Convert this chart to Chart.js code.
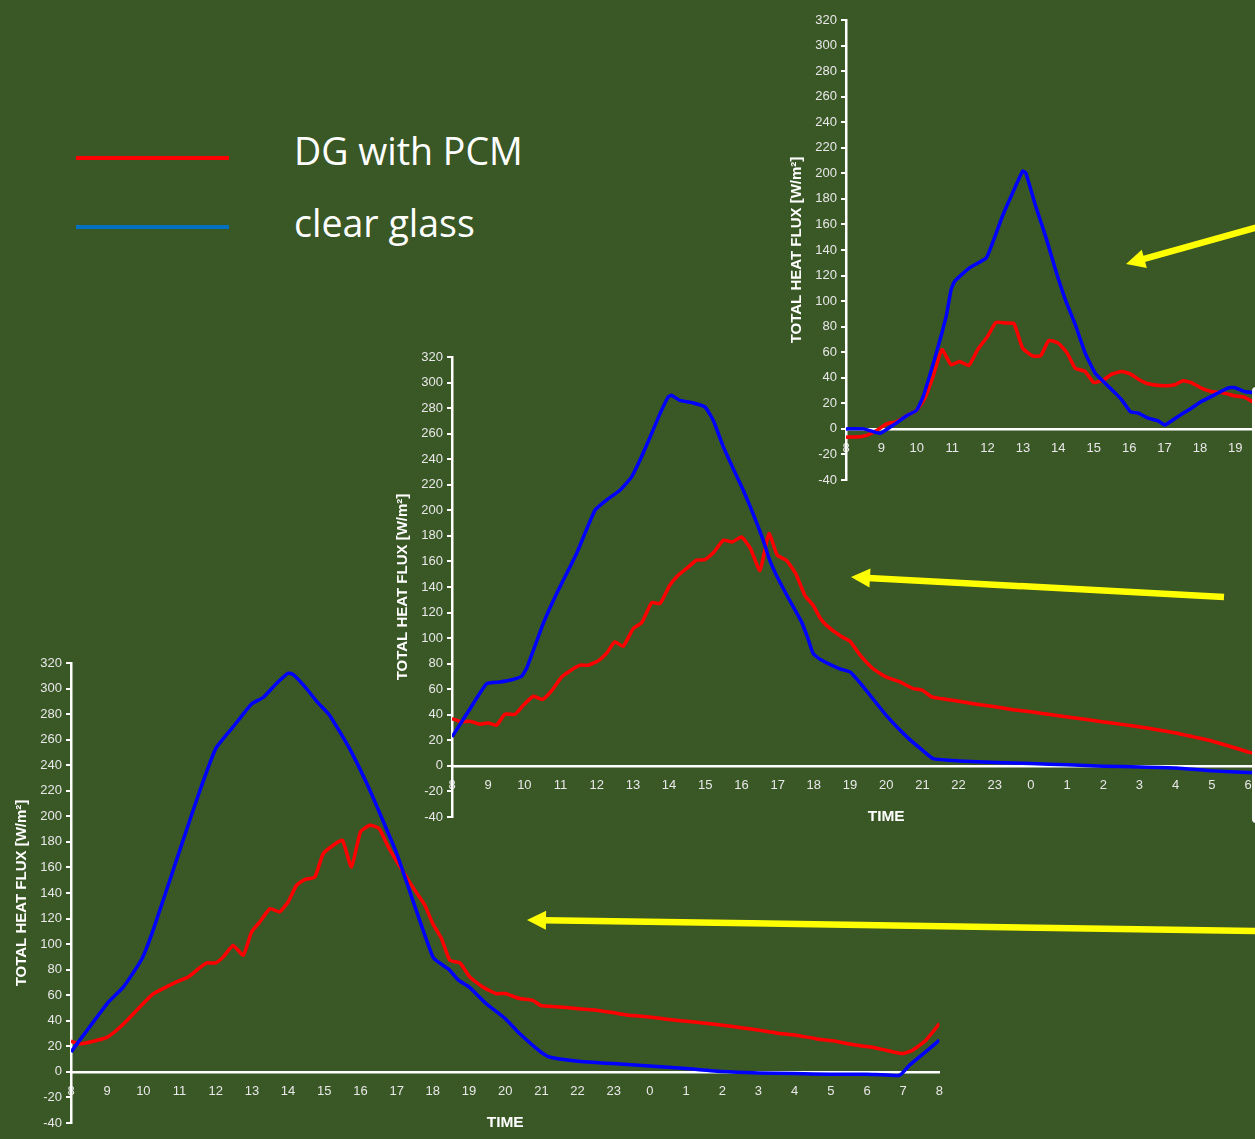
<!DOCTYPE html>
<html>
<head>
<meta charset="utf-8">
<script src="https://cdn.jsdelivr.net/npm/chart.js@4.4.1/dist/chart.umd.min.js"></script>
<style>
  html, body { margin: 0; padding: 0; width: 1255px; height: 1139px; overflow: hidden; background: #3a5726; }
  .plot { position: absolute; }
  .key-line { position: absolute; height: 4px; }
  .key-text { position: absolute; font-family: "Open Sans", sans-serif; font-size: 37.5px; line-height: 1; color: #ffffff; white-space: nowrap; }
  #edge { position: absolute; left: 1252px; top: 387px; width: 12px; height: 436px; background: #ffffff; border-radius: 4px; }
  #arrows { position: absolute; left: 0; top: 0; }
</style>
</head>
<body>

<div class="key-line" style="left:76px; top:156px; width:153px; background:#ff0000;"></div>
<div class="key-line" style="left:76px; top:225px; width:153px; background:#0070c0;"></div>
<div class="key-text" style="left:294px; top:132px;">DG with PCM</div>
<div class="key-text" style="left:294px; top:204px;">clear glass</div>

<canvas id="dayC" class="plot" width="936" height="489" style="left:775px; top:8px;"></canvas>
<canvas id="dayB" class="plot" width="955" height="489" style="left:381px; top:345px;"></canvas>
<canvas id="dayA" class="plot" width="955" height="489" style="left:0px; top:651px;"></canvas>

<div id="edge"></div>
<svg id="arrows" width="1255" height="1139"></svg>

<script>
// Hours elapsed since 08:00; tick labels show the clock hour.
// Day A (lower left panel)
const dayAClearHours = [0, 1, 1.45, 1.95, 2.27, 3, 3.56, 4, 4.48, 4.99, 5.31, 5.68, 6.0, 6.14, 6.51, 6.79, 7.15, 7.7, 8.17, 8.54, 9.0, 9.45, 9.73, 10.0, 10.1, 10.45, 10.7, 11.0, 11.47, 12.0, 12.4, 12.98, 13.22, 13.96, 14.97, 15.99, 17.0, 18.0, 19.0, 20.0, 21.0, 22.0, 22.9, 23.17, 23.45, 24];
const dayAClearFlux  = [15.6, 53.5, 66.5, 88, 111, 173, 220, 253, 270, 288, 293, 304, 312, 311, 300, 290, 279, 253, 226, 202, 171, 134, 111, 90, 87, 80, 72, 66.5, 53.5, 41.7, 30, 15.6, 11.7, 8.6, 6.5, 4.7, 2.6, 0.3, -0.8, -1.3, -1.8, -1.8, -2.6, 5.2, 11.7, 24.8];
const dayAPcmHours = [0, 0.25, 0.62, 0.99, 1.26, 1.54, 1.91, 2.27, 2.64, 2.92, 3.24, 3.47, 3.75, 4.0, 4.21, 4.48, 4.76, 4.99, 5.22, 5.5, 5.76, 6.0, 6.23, 6.46, 6.74, 6.97, 7.25, 7.5, 7.75, 8.0, 8.26, 8.52, 8.77, 9.04, 9.27, 9.5, 9.78, 10.0, 10.24, 10.47, 10.75, 11.02, 11.38, 11.75, 12.0, 12.4, 12.76, 12.98, 13.41, 13.96, 14.51, 14.97, 15.43, 15.99, 16.54, 17.0, 17.46, 18.01, 18.57, 19.03, 19.49, 20.04, 20.59, 21.05, 21.6, 22.06, 22.52, 22.99, 23.26, 23.63, 24.0];
const dayAPcmFlux  = [24, 22, 24, 27, 32.6, 40, 51, 61, 66.5, 70.4, 74.3, 79.5, 85.3, 85.3, 90, 99, 91.3, 109.5, 117.4, 127.8, 125.2, 133, 146, 150.5, 152.6, 170.8, 177.4, 181.3, 160.4, 187.8, 193, 190.4, 176, 163, 152.6, 142.2, 130.4, 116, 104.3, 87.4, 85.3, 74.3, 66.5, 61.3, 61.3, 57.4, 56, 52, 51, 49.6, 48.3, 46.4, 44.3, 43, 41, 39.6, 38.3, 36.5, 34.4, 32.6, 30.5, 28.7, 26, 24.3, 21.4, 19.6, 17, 14.3, 17, 24.8, 37.8];

// Day B (middle panel)
const dayBClearHours = [0, 0.59, 0.96, 1.33, 1.6, 1.92, 2.06, 2.25, 2.52, 2.89, 3.44, 3.95, 4.27, 4.64, 4.96, 5.19, 5.47, 5.75, 5.98, 6.07, 6.3, 6.67, 6.99, 7.22, 7.5, 7.77, 8.05, 8.32, 8.6, 8.78, 9.01, 9.33, 9.66, 9.84, 9.98, 10.17, 10.72, 11.0, 11.37, 12.0, 12.57, 13.0, 13.3, 14.0, 15.01, 16.0, 17.01, 18.01, 19.02, 20.01, 21.02, 22.01, 22.4];
const dayBClearFlux  = [22.7, 48.8, 64.4, 65.7, 67, 70, 76.2, 90.5, 111.4, 134.8, 166, 200, 208, 215.7, 226, 239, 257, 275.7, 289, 290, 286, 284, 281, 270.5, 249.6, 232.7, 215.7, 197.4, 176.6, 161, 146.6, 129.6, 112.7, 99.6, 88, 83.5, 76, 73.5, 61.8, 39.6, 22.7, 12.3, 5.7, 3.9, 2.6, 1.8, 0.8, -0.3, -0.8, -1.6, -3.9, -5.2, -5.5];
const dayBPcmHours = [0, 0.27, 0.5, 0.77, 1.0, 1.23, 1.46, 1.74, 1.97, 2.25, 2.5, 2.75, 3.03, 3.26, 3.54, 3.77, 4.04, 4.27, 4.5, 4.73, 5.01, 5.24, 5.52, 5.75, 6.02, 6.25, 6.48, 6.76, 6.99, 7.22, 7.5, 7.75, 8.0, 8.25, 8.51, 8.76, 8.99, 9.24, 9.5, 9.75, 9.98, 10.17, 10.35, 10.72, 11.0, 11.28, 11.63, 12.0, 12.38, 12.75, 13.0, 13.26, 13.67, 14.0, 14.5, 15.01, 15.51, 16.0, 16.53, 17.01, 17.54, 18.01, 18.56, 19.02, 19.57, 20.01, 20.49, 21.02, 21.51, 22.01, 22.4];
const dayBPcmFlux  = [37, 34.4, 35, 32.6, 33.6, 31.8, 40.4, 40.4, 47.5, 54.5, 52, 58.7, 69.6, 74.3, 78.8, 78.8, 82.2, 88, 97, 93.6, 107.5, 112, 127.8, 127, 141.4, 149.2, 154.4, 161, 161.4, 166.7, 176.6, 175.3, 179.2, 170, 153, 181.8, 164.8, 161, 150.5, 133.5, 125.7, 116, 110, 102, 97.5, 86.6, 76.2, 69.6, 65.7, 60.5, 59.2, 54, 52, 50.6, 48.3, 46.2, 44, 42.3, 40.2, 38.3, 36.3, 34.4, 32.3, 30.5, 27.9, 25.8, 22.7, 19.3, 15.2, 10.8, 9];

// Day C (upper right panel)
const dayCClearHours = [0, 0.5, 0.96, 1.34, 1.76, 1.99, 2.18, 2.55, 2.83, 2.97, 3.07, 3.49, 3.96, 4.14, 4.42, 4.75, 4.99, 5.08, 5.36, 5.64, 5.92, 6.2, 6.48, 6.76, 7.04, 7.32, 7.61, 7.79, 8.03, 8.26, 8.54, 8.82, 9.01, 9.38, 9.76, 10.04, 10.41, 10.79, 10.97, 11.25, 11.49, 11.7];
const dayCClearFlux  = [0, 0, -3.4, 3.1, 11, 14.4, 25.3, 59.3, 88, 109, 115.5, 126, 133.7, 145.5, 166.4, 187.3, 201.7, 200.4, 174.2, 150.7, 124.6, 101, 81.5, 59.3, 43.6, 35.8, 28, 22.7, 13.6, 12.3, 8.4, 6.3, 3.1, 9.7, 16.2, 21.4, 26.6, 31.9, 32.4, 29.3, 28.5, 28];
const dayCPcmHours = [0, 0.45, 0.73, 0.96, 1.15, 1.43, 1.76, 1.99, 2.23, 2.46, 2.71, 2.97, 3.21, 3.47, 3.72, 4.0, 4.24, 4.52, 4.75, 4.99, 5.27, 5.5, 5.73, 6.0, 6.25, 6.48, 6.76, 7.0, 7.28, 7.51, 7.79, 8.03, 8.26, 8.54, 9.01, 9.29, 9.52, 9.76, 10.04, 10.32, 10.69, 10.97, 11.25, 11.49, 11.7];
const dayCPcmFlux  = [-6.5, -6, -3.4, 0.5, 3.9, 5.7, 11, 14.4, 24, 41, 62, 50.2, 52.8, 49.6, 62, 72.4, 83.3, 82.8, 82.3, 63.2, 57.2, 57.2, 69.2, 67.1, 59.3, 47.5, 44.9, 36.3, 38.4, 42.8, 44.9, 43.1, 38.9, 35.3, 33.7, 34.5, 37.6, 36.3, 31.9, 29.3, 28, 25.9, 24.8, 21.4, 20];

const seriesNames = ['clear glass', 'DG with PCM'];
const seriesColors = ['#0000ff', '#ff0000'];
const yTitle = 'TOTAL HEAT FLUX [W/m²]';
const xTitle = 'TIME';
const startHour = 8;

Chart.defaults.font.family = '"Liberation Sans", Arial, sans-serif';
Chart.defaults.color = '#e8e8e8';

function points(hours, flux) {
  return hours.map((h, i) => ({ x: h, y: flux[i] }));
}

function drawDay(id, clearHours, clearFlux, pcmHours, pcmFlux) {
  const series = [points(clearHours, clearFlux), points(pcmHours, pcmFlux)];
  return new Chart(document.getElementById(id), {
    type: 'line',
    data: {
      datasets: series.map((data, i) => ({
        label: seriesNames[i],
        data,
        borderColor: seriesColors[i],
        borderWidth: 3.5,
        pointRadius: 0,
        tension: 0.15,
        borderJoinStyle: 'round',
        fill: false
      }))
    },
    options: {
      responsive: false,
      animation: false,
      events: [],
      layout: { padding: { top: 12, right: 15, bottom: 17, left: 0 } },
      plugins: { legend: { display: false }, tooltip: { enabled: false } },
      scales: {
        x: {
          type: 'linear',
          min: 0,
          max: 24,
          position: { y: 0 },
          ticks: {
            stepSize: 1,
            autoSkip: false,
            maxRotation: 0,
            padding: 12,
            font: { size: 13 },
            callback: v => String((startHour + v) % 24)
          },
          grid: { drawOnChartArea: false, drawTicks: false, color: '#ffffff' },
          border: { color: '#ffffff', width: 2.5 },
          title: { display: true, text: xTitle, color: '#ffffff', font: { size: 15.5, weight: 'bold' }, padding: { top: 2, bottom: 0 } }
        },
        y: {
          type: 'linear',
          min: -40,
          max: 320,
          ticks: { stepSize: 20, padding: 4, font: { size: 13 } },
          grid: { drawOnChartArea: false, drawTicks: true, tickLength: 5, color: '#ffffff', lineWidth: 2 },
          border: { color: '#ffffff', width: 2.5 },
          title: { display: true, text: yTitle, color: '#ffffff', font: { size: 15, weight: 'bold' }, padding: { top: 13, bottom: 0 } },
          afterFit: s => { s.width = 71; }
        }
      }
    }
  });
}

drawDay('dayC', dayCClearHours, dayCClearFlux, dayCPcmHours, dayCPcmFlux);
drawDay('dayB', dayBClearHours, dayBClearFlux, dayBPcmHours, dayBPcmFlux);
drawDay('dayA', dayAClearHours, dayAClearFlux, dayAPcmHours, dayAPcmFlux);

// Yellow call-out arrows pointing at each panel
const callouts = [
  { from: [1262, 226], to: [1126, 264] },
  { from: [1224, 597], to: [851, 577] },
  { from: [1262, 931], to: [527, 920] }
];
const svg = document.getElementById('arrows');
const NS = 'http://www.w3.org/2000/svg';
callouts.forEach(({ from, to }) => {
  const dx = to[0] - from[0], dy = to[1] - from[1];
  const len = Math.hypot(dx, dy);
  const ux = dx / len, uy = dy / len;
  const headLen = 19, headHalf = 9.5;
  const bx = to[0] - ux * headLen, by = to[1] - uy * headLen;
  const line = document.createElementNS(NS, 'line');
  line.setAttribute('x1', from[0]); line.setAttribute('y1', from[1]);
  line.setAttribute('x2', bx + ux * 2); line.setAttribute('y2', by + uy * 2);
  line.setAttribute('stroke', '#ffff00'); line.setAttribute('stroke-width', '6.5');
  svg.appendChild(line);
  const head = document.createElementNS(NS, 'polygon');
  head.setAttribute('points', [
    to[0] + ',' + to[1],
    (bx - uy * headHalf) + ',' + (by + ux * headHalf),
    (bx + uy * headHalf) + ',' + (by - ux * headHalf)
  ].join(' '));
  head.setAttribute('fill', '#ffff00');
  svg.appendChild(head);
});
</script>
</body>
</html>
